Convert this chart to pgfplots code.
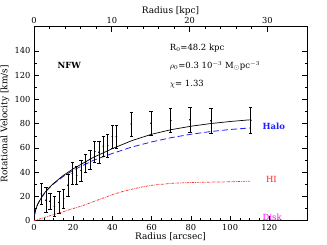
\documentclass[border=0pt]{standalone}
\usepackage{pgfplots}
\pgfplotsset{compat=1.18}
\usepackage{fontspec}
\setmainfont{DejaVu Serif}
\definecolor{myblue}{RGB}{30,30,255}
\definecolor{myred}{RGB}{255,40,40}
\definecolor{mymag}{RGB}{255,0,255}
\begin{document}
\begin{tikzpicture}[font=\fontsize{8.5}{10}\selectfont]
\path[use as bounding box] (-34bp,-24.3bp) rectangle (293bp,220.7bp);
\begin{axis}[
  width=273bp, height=194bp, scale only axis,
  xmin=0, xmax=139.2, ymin=0, ymax=160,
  xtick={0,20,...,120}, minor x tick num=3,
  ytick={0,20,...,140}, minor y tick num=1,
  xtick pos=lower, ytick pos=both, yticklabel pos=left,
  tick align=inside,
  major tick length=5bp, minor tick length=2.5bp,
  tick style={black, line width=0.6pt},
  axis line style={line width=0.8pt},
  tick label style={font=\fontsize{8.3}{10}\selectfont},
  /pgf/number format/assume math mode=true,
  xlabel={Radius [arcsec]}, ylabel={Rotational Velocity [km/s]},
  label style={font=\fontsize{9}{10}\selectfont},
  xlabel style={at={(axis description cs:0.5,-0.084)}, anchor=center},
  ylabel style={at={(axis description cs:-0.106,0.5)}, anchor=center},
  clip=false,
]
% Halo (blue, long dashed)
\addplot[myblue, line width=0.8pt, dash pattern=on 6bp off 3bp] coordinates {
(0.3,5) (1,10) (2,14) (4,19.6) (6,24) (8,27.4) (10,30.4) (15,36.6) (20,41.6)
(30,49.6) (40,55.5) (50,60.8) (60,65) (70,68.5) (80,71.3) (90,73.5) (100,75.2) (110,76.5)};
% HI (red, dash-dot)
\addplot[myred, line width=0.7pt, dash pattern=on 2.5bp off 1bp on 0.6bp off 1bp] coordinates {
(0,0) (5,2.5) (10,5) (15,7.5) (20,10) (25,12.5) (30,15.5) (35,18.5) (40,21.5) (45,24)
(50,26) (55,27.8) (60,29.2) (70,30.8) (80,31.5) (90,31.8) (100,32.1) (110,32.6)};
% Total (black solid)
\addplot[black, line width=0.7pt] coordinates {
(0.3,5) (1,10) (2,14) (4,19.7) (6,24.2) (8,27.7) (10,30.8) (15,37.4) (20,42.8)
(30,52) (40,59.5) (50,66.1) (60,71.3) (70,75.1) (80,77.9) (90,80.1) (100,81.8) (110,83.2)};
% Data with error bars
\addplot[black, only marks, mark=*, mark size=0.6pt,
  error bars/.cd, y dir=both, y explicit,
  error bar style={line width=0.6pt}, error mark options={rotate=90, mark size=1.6pt, line width=0.6pt}]
  table[x=x, y=y, y error=e] {
x y e
3.75 22.1 8.9
6.1 16.9 10.3
8.15 16.1 6.7
10.4 12.1 8.2
12.75 15.0 9.2
15.1 18.25 8.05
17.35 29.25 8.95
19.55 39.1 8.9
21.75 37.45 7.55
24.0 41.55 8.65
26.35 47.5 7.4
28.55 50.5 7.9
30.95 57.05 8.75
33.15 56.5 8.8
35.35 61.45 8.25
37.55 61.9 9.5
39.95 69.3 9.2
42.0 69.3 9.2
49.6 79.7 10
59.7 80.4 10.1
69.7 82.65 9.85
79.55 83.3 10.5
90.25 82.5 10.5
110.5 82.85 10.45
};
\node[anchor=west, font=\fontsize{8.5}{10}\selectfont\bfseries] at (axis cs:10.2,128) {NFW};
\node[anchor=west] at (axis cs:67.5,142) {R$_0$=48.2 kpc};
\node[anchor=west] at (axis cs:67.5,127.5) {$\rho_0$=0.3 10$^{-3}$ M$_\odot$pc$^{-3}$};
\node[anchor=west] at (axis cs:67.5,113) {$\chi$= 1.33};
\node[anchor=west, text=myblue, font=\fontsize{8.5}{10}\selectfont\bfseries] at (axis cs:114.8,78) {Halo};
\node[anchor=west, text=myred] at (axis cs:116.5,34) {HI};
\node[anchor=west, text=mymag] at (axis cs:114.8,2.5) {Disk};
\end{axis}
\begin{axis}[
  width=273bp, height=194bp, scale only axis,
  xmin=0, xmax=35.1, ymin=0, ymax=160,
  axis x line*=top, axis y line=none,
  xtick={0,10,20,30}, minor x tick num=4,
  tick align=inside,
  major tick length=5bp, minor tick length=2.5bp,
  tick style={black, line width=0.6pt},
  axis line style={line width=0.8pt},
  tick label style={font=\fontsize{8.3}{10}\selectfont},
  /pgf/number format/assume math mode=true,
  xlabel={Radius [kpc]},
  label style={font=\fontsize{9}{10}\selectfont},
  xlabel style={at={(axis description cs:0.5,1.082)}, anchor=center},
]
\end{axis}
\end{tikzpicture}
\end{document}
